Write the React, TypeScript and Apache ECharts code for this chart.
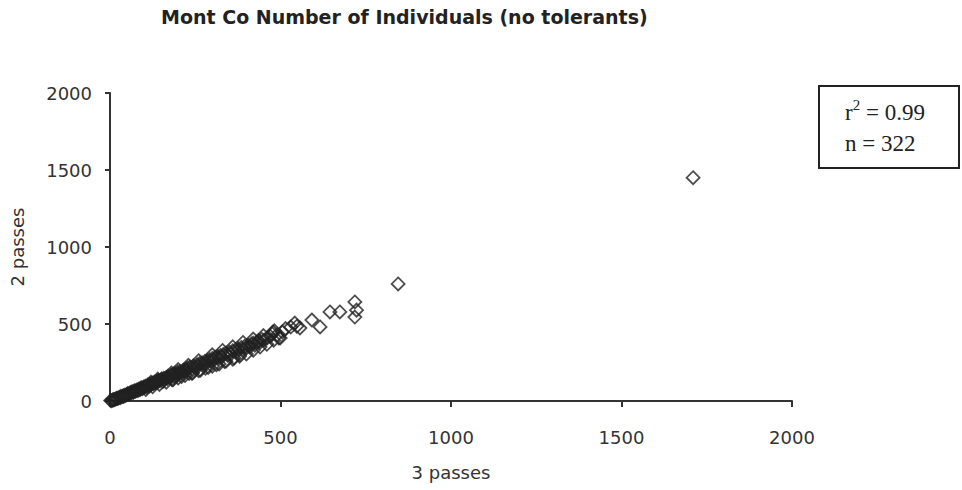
import React, { useEffect, useRef } from "react";
import * as echarts from "echarts";

const titleText = "Mont Co Number of Individuals (no tolerants)";
const xName = "3 passes";
const yName = "2 passes";
const statLine1 = "0.99";
const statLine2 = "n = 322";

// 3 passes (x) and 2 passes (y)
const threePasses: number[] = [
  2, 5, 8, 10, 12, 15, 18, 20, 22, 25, 28, 30, 32, 35, 38, 40, 42, 45, 48, 50,
  52, 55, 58, 60, 62, 65, 68, 70, 72, 75, 78, 80, 82, 85, 88, 90, 92, 95, 98, 100,
  104, 108, 110, 112, 115, 118, 120, 124, 128, 130, 134, 136, 140, 142, 146, 150, 152, 155, 158, 160,
  165, 168, 170, 175, 178, 182, 185, 188, 190, 195, 198, 200, 205, 208, 210, 215, 218, 222, 225, 228,
  232, 235, 240, 242, 245, 250, 255, 258, 262, 265, 270, 274, 278, 282, 285, 288, 292, 296, 300, 305,
  308, 312, 316, 320, 324, 328, 332, 336, 340, 345, 350, 355, 360, 364, 368, 372, 376, 380, 385, 390,
  395, 400, 405, 410, 415, 420, 425, 430, 436, 440, 445, 452, 460, 470, 476, 478, 482, 490, 499, 505,
  515, 530, 542, 548, 557, 592, 616, 645, 674, 718, 718, 723, 845, 1710,
  105, 125, 145, 165, 185, 200, 220, 240, 260, 280, 300, 320, 340, 360, 380, 400, 420, 440, 460, 480,
  495, 120, 140, 180, 200, 230, 260, 300, 330, 360, 390, 420, 450,
];
const twoPasses: number[] = [
  3, 2, 6, 9, 8, 12, 14, 18, 17, 20, 24, 22, 30, 28, 33, 30, 38, 36, 40, 42,
  48, 45, 52, 50, 56, 60, 55, 62, 66, 64, 70, 72, 68, 78, 74, 82, 86, 80, 88, 92,
  96, 90, 100, 106, 98, 110, 104, 116, 112, 122, 118, 128, 126, 134, 132, 138, 144, 126, 148, 140,
  152, 146, 160, 152, 168, 138, 174, 160, 178, 170, 186, 176, 192, 182, 160, 200, 190, 208, 196, 214,
  178, 220, 210, 182, 228, 218, 236, 224, 242, 200, 248, 236, 256, 244, 262, 218, 268, 256, 276, 266,
  282, 236, 290, 278, 296, 286, 302, 256, 310, 298, 318, 306, 326, 280, 332, 318, 340, 300, 348, 334,
  356, 344, 362, 350, 370, 376, 362, 382, 392, 380, 400, 396, 408, 420, 436, 448, 456, 430, 409, 448,
  470, 480, 506, 486, 474, 526, 481, 578, 578, 643, 545, 590, 760, 1450,
  75, 92, 108, 122, 138, 150, 165, 180, 196, 212, 226, 240, 258, 272, 290, 305, 330, 350, 368, 395,
  410, 122, 142, 182, 204, 232, 262, 300, 328, 352, 380, 402, 425,
];

const xTicks = [0, 500, 1000, 1500, 2000];
const yTicks = [0, 500, 1000, 1500, 2000];

export default function App() {
  const ref = useRef<HTMLDivElement>(null);
  useEffect(() => {
    if (!ref.current) return;
    const chart = echarts.init(ref.current, undefined, { renderer: "svg" });
    const data = threePasses.map((x, i) => [x, twoPasses[i]]);
    const axisFont = { fontFamily: "DejaVu Sans", fontSize: 18, color: "#333" };
    chart.setOption({
      animation: false,
      backgroundColor: "#ffffff",
      title: {
        text: titleText,
        left: 161,
        top: 7,
        padding: 0,
        textStyle: { fontFamily: "DejaVu Sans", fontWeight: "bold", fontSize: 19, color: "#222" },
      },
      grid: { left: 110, right: 170, top: 93, bottom: 89, containLabel: false },
      xAxis: {
        type: "value",
        min: xTicks[0],
        max: xTicks[xTicks.length - 1],
        interval: xTicks[1] - xTicks[0],
        name: xName,
        nameLocation: "middle",
        nameGap: 62,
        nameTextStyle: axisFont,
        axisLine: { lineStyle: { color: "#333", width: 2 } },
        axisTick: { show: true, inside: false, length: 6, lineStyle: { color: "#333", width: 2 } },
        axisLabel: { ...axisFont, margin: 27, formatter: (v: number) => String(v) },
        splitLine: { show: false },
      },
      yAxis: {
        type: "value",
        min: yTicks[0],
        max: yTicks[yTicks.length - 1],
        interval: yTicks[1] - yTicks[0],
        name: yName,
        nameLocation: "middle",
        nameGap: 84,
        nameRotate: 90,
        nameTextStyle: axisFont,
        axisLine: { show: true, lineStyle: { color: "#333", width: 2 } },
        axisTick: { show: true, inside: false, length: 5, lineStyle: { color: "#333", width: 2 } },
        axisLabel: { ...axisFont, margin: 18, formatter: (v: number) => String(v) },
        splitLine: { show: false },
      },
      series: [
        {
          type: "scatter",
          data,
          symbol: "diamond",
          symbolSize: [13, 13],
          itemStyle: { color: "rgba(255,255,255,0)", borderColor: "#222", borderWidth: 1.8 },
          z: 5,
        },
      ],
      graphic: [
        {
          type: "rect",
          left: 818,
          top: 85,
          shape: { width: 140, height: 82 },
          style: { fill: "#fff", stroke: "#222", lineWidth: 2 },
        },
        {
          type: "text",
          left: 845,
          top: 97,
          style: {
            text: "{b|r}{s|2}{b| = " + statLine1 + "}\n{b|" + statLine2 + "}",
            rich: {
              b: { fontFamily: "Liberation Serif", fontSize: 23, fill: "#222", lineHeight: 31 },
              s: { fontFamily: "Liberation Serif", fontSize: 15, fill: "#222", lineHeight: 31, verticalAlign: "top", padding: [0, 0, 12, 0] },
            },
          },
        },
      ],
    });
    return () => chart.dispose();
  }, []);
  return (
    <div
      ref={ref}
      style={{ position: "fixed", left: 0, top: 0, width: 962, height: 490, background: "#fff" }}
    />
  );
}
